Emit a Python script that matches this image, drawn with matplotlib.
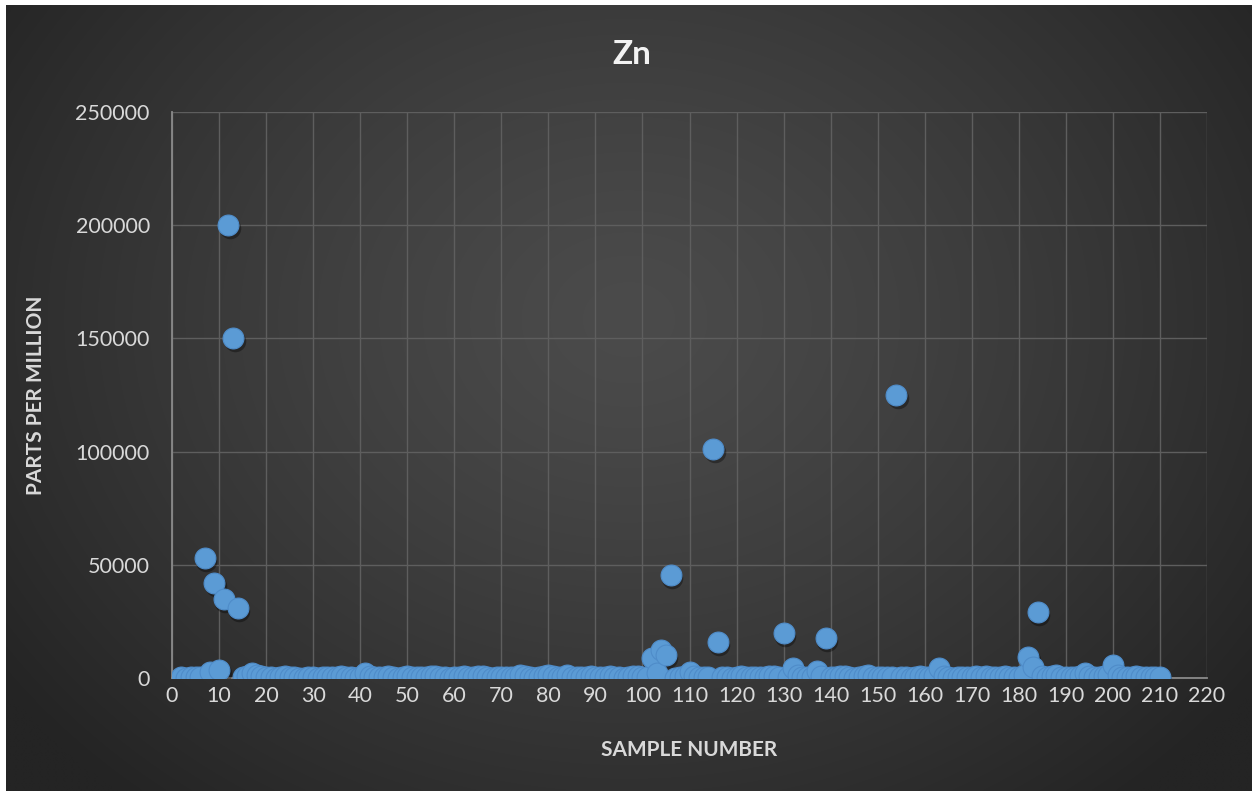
import numpy as np
import matplotlib
matplotlib.use("Agg")
import matplotlib.pyplot as plt
from matplotlib import transforms

plt.rcParams['font.family'] = ['Lato', 'DejaVu Sans']

# Zn assay results by sample number (ppm)
sample_number = list(range(2, 211))
zn_ppm = [
    300, 200, 400, 300, 500, 53000, 2500, 42000, 3500,
    35000, 200000, 150000, 31000, 400, 800, 2000, 1500, 900, 600,
    300, 200, 500, 900, 400, 300, 200, 150, 300, 250,
    200, 400, 300, 250, 500, 800, 400, 300, 200, 600,
    2200, 900, 600, 500, 400, 700, 300, 200, 500, 800,
    600, 300, 250, 400, 700, 900, 500, 300, 200, 400,
    600, 800, 500, 300, 700, 1000, 400, 200, 300, 500,
    400, 300, 600, 1200, 800, 300, 200, 400, 900, 1300,
    700, 300, 500, 1200, 600, 400, 300, 500, 700, 400,
    300, 600, 800, 500, 300, 200, 400, 900, 700, 500,
    600, 8800, 2200, 12400, 10200, 45500, 200, 400, 700, 2500,
    900, 500, 300, 400, 101000, 15900, 600, 300, 200, 500,
    800, 400, 300, 600, 500, 400, 700, 900, 600, 19900,
    600, 4400, 1200, 500, 300, 600, 3000, 800, 17700, 500,
    400, 700, 900, 300, 200, 500, 800, 1500, 600, 400,
    300, 600, 400, 125000, 500, 300, 200, 400, 700, 500,
    600, 900, 4400, 700, 300, 200, 500, 400, 300, 600,
    900, 500, 1000, 600, 400, 300, 700, 500, 300, 600,
    1500, 9300, 4800, 29000, 700, 500, 900, 1200, 600, 400,
    300, 500, 800, 2000, 900, 500, 300, 1000, 1500, 5700,
    1500, 600, 400, 300, 800, 600, 400, 300, 500, 300,
]

x_ticks = list(range(0, 221, 10))
y_ticks = list(range(0, 250001, 50000))

W, H, DPI = 1252, 791, 100
fig = plt.figure(figsize=(W / DPI, H / DPI), dpi=DPI, facecolor='white')

# dark radial-gradient chart background
bg = fig.add_axes([6 / W, 0, 1 - 6 / W, (H - 5) / H])
bg.set_axis_off()
gy, gx = np.mgrid[0:1:400j, 0:1:640j]
r = np.sqrt(((gx - 0.5) / 0.62) ** 2 + ((gy - 0.6) / 0.8) ** 2)
shade = 0x4b / 255 - (0x4b - 0x24) / 255 * np.clip(r, 0, 1) ** 1.3
bg.imshow(np.dstack([shade] * 3), extent=[0, 1, 0, 1], aspect='auto',
          interpolation='bilinear', origin='lower')
bg.set_xlim(0, 1)
bg.set_ylim(0, 1)

ax = fig.add_axes([172 / W, 113 / H, (1207 - 172) / W, (678 - 112) / H])
ax.set_facecolor('none')
ax.set_xlim(0, 220)
ax.set_ylim(0, 250000)
ax.set_xticks(x_ticks)
ax.set_yticks(y_ticks)
ax.grid(True, color='#5e5e5e', linewidth=1.0)
ax.set_axisbelow(True)
for s in ['top', 'right']:
    ax.spines[s].set_visible(False)
for s in ['left', 'bottom']:
    ax.spines[s].set_color('#8a8a8a')
    ax.spines[s].set_linewidth(1.3)
ax.tick_params(length=0, labelsize=15.5, colors='#d9d9d9')
ax.tick_params(axis='x', pad=6)
ax.tick_params(axis='y', pad=16)

# marker drop shadow, then the markers themselves
shadow = transforms.offset_copy(ax.transData, fig=fig, x=1.5, y=-3, units='dots')
ax.scatter(sample_number, zn_ppm, s=240, color='black', alpha=0.35,
           linewidths=0, transform=shadow, zorder=3)
ax.scatter(sample_number, zn_ppm, s=225, color='#5b9bd5',
           edgecolors='#4f8cc9', linewidths=0.8, zorder=4)

ax.set_xlabel('SAMPLE NUMBER', fontsize=15, fontweight='bold',
              color='#d9d9d9', labelpad=24)
ax.set_ylabel('PARTS PER MILLION', fontsize=15, fontweight='bold',
              color='#d9d9d9', labelpad=21)
fig.text(632 / W, 1 - 55 / H, 'Zn', fontsize=24, fontweight='bold',
         color='#f2f2f2', ha='center', va='center')

fig.savefig('out.png', dpi=DPI, facecolor='white')
